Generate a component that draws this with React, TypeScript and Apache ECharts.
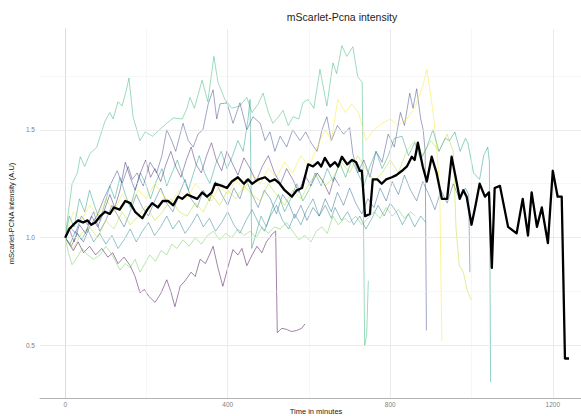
import React, { useEffect, useRef } from "react";
import * as echarts from "echarts";

const chartTitle = "mScarlet-Pcna intensity";
const xTitle = "Time in minutes";
const yTitle = "mScarlet-PCNA intensity (A.U)";
const xTickLabels = [0, 400, 800, 1200];
const yTickLabels = [0.5, 1.0, 1.5];
const xGridMajor = [0, 400, 800, 1200];
const xGridMinor = [200, 600, 1000];
const yGridMajor = [0.5, 1.0, 1.5];
const yGridMinor = [0.75, 1.25, 1.75];

const cellColors = ["#35b779", "#3e4989", "#440154", "#6ece58", "#31688e", "#fde725", "#b5de2b", "#1f9e89", "#482878", "#26828e"];

const cell1 = [[0,1.00],[8,1.12],[17,1.25],[30,1.30],[37,1.375],[48,1.33],[61,1.39],[78,1.42],[86,1.47],[98,1.54],[110,1.58],[118,1.55],[130,1.63],[140,1.61],[150,1.68],[157,1.74],[167,1.56],[184,1.45],[197,1.49],[215,1.47],[238,1.51],[250,1.53],[266,1.555],[288,1.55],[300,1.60],[307,1.65],[318,1.60],[337,1.73],[351,1.63],[366,1.84],[376,1.72],[393,1.64],[410,1.60],[430,1.61],[447,1.65],[460,1.58],[475,1.62],[487,1.67],[500,1.58],[511,1.53],[525,1.56],[536,1.59],[549,1.52],[561,1.56],[575,1.55],[585,1.625],[598,1.64],[612,1.60],[627,1.78],[644,1.61],[659,1.81],[668,1.76],[681,1.89],[693,1.84],[708,1.885],[720,1.745],[731,1.72],[737,0.50],[742,0.55],[746,0.80]];
const cell2 = [[0,1.00],[15,0.96],[30,1.02],[45,0.98],[60,1.05],[78,1.10],[95,1.18],[110,1.24],[128,1.31],[140,1.25],[155,1.33],[165,1.27],[177,1.30],[192,1.24],[209,1.35],[225,1.30],[238,1.38],[250,1.50],[262,1.45],[272,1.40],[290,1.53],[303,1.45],[315,1.42],[327,1.48],[339,1.50],[352,1.62],[364,1.685],[373,1.55],[381,1.62],[398,1.625],[413,1.53],[430,1.625],[447,1.50],[462,1.56],[480,1.53],[492,1.45],[504,1.49],[516,1.40],[529,1.47],[545,1.42],[560,1.50],[578,1.45],[592,1.49],[605,1.44],[620,1.40],[632,1.50],[644,1.56],[655,1.45],[670,1.52],[685,1.48],[700,1.51],[708,1.39],[720,1.30],[735,1.36],[750,1.28],[765,1.40],[780,1.35],[795,1.48],[810,1.42],[825,1.58],[835,1.52],[848,1.67],[856,1.60],[865,1.69],[875,1.55],[881,1.50],[886,1.40],[889,0.57]];
const cell3 = [[0,1.00],[10,0.97],[20,0.94],[32,0.98],[45,0.93],[60,0.96],[75,0.92],[90,0.95],[105,0.91],[117,0.93],[130,0.88],[145,0.91],[160,0.87],[172,0.82],[184,0.745],[195,0.76],[205,0.73],[221,0.70],[235,0.74],[250,0.805],[260,0.75],[270,0.68],[283,0.775],[295,0.80],[310,0.84],[320,0.82],[332,0.90],[345,0.88],[355,0.92],[364,0.96],[376,0.86],[388,0.775],[400,0.86],[413,0.945],[425,0.92],[435,0.95],[447,0.87],[460,0.92],[472,0.96],[484,0.93],[495,0.98],[511,1.02],[518,1.03],[522,0.56],[533,0.58],[545,0.575],[557,0.565],[570,0.57],[582,0.58],[590,0.60]];
const cell4 = [[0,1.00],[8,0.93],[17,0.875],[30,0.91],[42,0.95],[55,0.92],[70,0.90],[86,0.92],[100,0.96],[112,0.93],[124,0.89],[135,0.85],[148,0.88],[160,0.86],[172,0.90],[184,0.84],[196,0.88],[208,0.92],[222,0.89],[236,0.94],[250,0.92],[262,0.97],[275,0.95],[290,0.99],[305,0.96],[320,1.00],[335,0.97],[350,1.01],[365,1.03],[380,0.99],[395,1.02],[410,1.00],[425,1.04],[440,1.01],[455,1.03],[470,1.00],[485,1.05],[500,1.02],[515,1.05],[529,1.04],[545,1.07],[560,1.03],[575,0.99],[590,1.01],[605,0.98],[618,1.03],[632,1.05],[645,1.02],[659,1.10],[672,1.06],[688,1.09],[700,1.07],[715,1.10],[730,1.06],[745,1.09],[760,1.12],[775,1.09],[790,1.14],[805,1.10],[820,1.13],[835,1.09],[850,1.12],[862,1.10]];
const cell5 = [[0,1.00],[12,1.05],[25,1.02],[40,1.10],[55,1.06],[70,1.12],[85,1.03],[100,1.08],[115,1.15],[130,1.10],[145,1.05],[160,1.12],[175,1.20],[190,1.14],[205,1.10],[220,1.17],[235,1.23],[250,1.16],[265,1.12],[280,1.20],[295,1.27],[310,1.18],[325,1.14],[340,1.22],[355,1.17],[370,1.26],[385,1.20],[400,1.15],[415,1.23],[430,1.18],[445,1.27],[460,1.20],[475,1.14],[490,1.22],[505,1.18],[520,1.11],[535,1.20],[550,1.16],[565,1.09],[580,1.15],[595,1.08],[610,1.14],[625,1.10],[640,1.18],[655,1.12],[670,1.21],[685,1.15],[700,1.23],[715,1.16],[730,1.11],[745,1.18],[760,1.14],[775,1.23],[790,1.17],[805,1.26],[820,1.20],[835,1.29],[850,1.22],[865,1.17],[880,1.26],[895,1.20],[910,1.13],[925,1.22],[940,1.16],[955,1.25],[970,1.18],[985,1.23],[993,1.20],[996,0.84]];
const cell6 = [[0,1.00],[20,1.12],[40,1.08],[60,1.15],[80,1.10],[100,1.18],[120,1.12],[140,1.20],[160,1.15],[180,1.22],[200,1.18],[220,1.25],[240,1.20],[260,1.16],[280,1.22],[300,1.18],[320,1.25],[340,1.21],[360,1.17],[380,1.24],[400,1.20],[420,1.27],[440,1.22],[460,1.30],[480,1.25],[500,1.32],[520,1.28],[540,1.35],[560,1.30],[580,1.38],[600,1.33],[620,1.42],[640,1.50],[655,1.45],[671,1.64],[690,1.58],[705,1.62],[722,1.58],[740,1.45],[760,1.50],[780,1.53],[800,1.55],[820,1.52],[840,1.55],[860,1.60],[880,1.70],[890,1.78],[905,1.59],[915,1.40],[922,1.20],[927,0.52]];
const cell7 = [[0,1.00],[20,0.95],[40,1.02],[60,1.05],[80,1.00],[100,1.08],[120,1.04],[140,1.12],[160,1.06],[180,1.10],[200,1.15],[220,1.08],[240,1.12],[260,1.18],[280,1.12],[300,1.10],[320,1.16],[340,1.12],[360,1.20],[380,1.15],[400,1.22],[420,1.18],[440,1.24],[460,1.20],[480,1.17],[500,1.25],[520,1.20],[540,1.15],[560,1.22],[580,1.18],[600,1.25],[620,1.30],[640,1.24],[660,1.28],[680,1.35],[700,1.30],[720,1.38],[740,1.32],[760,1.26],[780,1.30],[800,1.36],[820,1.30],[840,1.40],[860,1.45],[880,1.38],[900,1.45],[920,1.40],[940,1.48],[955,1.40],[962,1.04],[970,0.87],[980,0.84],[990,0.75],[1000,0.71]];
const cell8 = [[0,1.00],[10,1.10],[22,1.05],[35,1.18],[48,1.12],[60,1.22],[72,1.15],[85,1.08],[98,1.16],[110,1.24],[122,1.18],[135,1.28],[148,1.20],[160,1.14],[172,1.22],[185,1.30],[198,1.25],[210,1.18],[224,1.26],[238,1.32],[250,1.24],[263,1.30],[276,1.36],[290,1.28],[303,1.22],[316,1.30],[330,1.38],[343,1.30],[356,1.25],[370,1.34],[384,1.40],[398,1.32],[412,1.38],[425,1.45],[438,1.40],[450,1.55],[455,1.64],[459,0.95],[470,1.02],[482,1.10],[495,1.05],[510,1.14],[525,1.20],[540,1.12],[555,1.18],[570,1.25],[585,1.17],[600,1.22],[615,1.30],[630,1.24],[645,1.32],[660,1.26],[675,1.35],[690,1.28],[705,1.36],[720,1.30],[735,1.24],[750,1.33],[765,1.40],[780,1.32],[795,1.38],[810,1.46],[829,1.47],[845,1.38],[860,1.44],[875,1.36],[890,1.42],[905,1.50],[920,1.40],[935,1.46],[946,1.45],[959,1.49],[972,1.40],[985,1.46],[991,1.44],[1005,1.30],[1020,1.27],[1030,1.38],[1040,1.42],[1044,1.35],[1047,0.33]];
const cell9 = [[0,1.00],[10,1.04],[22,0.98],[35,1.06],[50,1.02],[65,1.10],[80,1.05],[95,1.12],[110,1.20],[122,1.14],[135,1.22],[148,1.35],[160,1.28],[172,1.22],[185,1.30],[198,1.36],[210,1.28],[221,1.32],[235,1.26],[248,1.34],[260,1.40],[272,1.33],[285,1.28],[298,1.36],[310,1.42],[322,1.34],[335,1.30],[348,1.38],[360,1.44],[372,1.36],[385,1.31],[398,1.40],[410,1.35],[425,1.29],[440,1.37],[455,1.32],[470,1.26],[485,1.33],[500,1.38],[515,1.30],[530,1.25],[545,1.32],[560,1.27],[575,1.21],[590,1.29],[605,1.24],[620,1.30],[635,1.26],[650,1.20],[662,1.28],[675,1.24]];
const cell10 = [[0,1.00],[12,0.97],[25,1.03],[40,0.99],[55,1.04],[70,0.98],[85,1.02],[100,0.97],[115,1.01],[130,0.95],[145,0.99],[160,1.04],[175,0.98],[190,1.03],[205,1.07],[220,1.01],[235,1.05],[250,1.10],[265,1.04],[280,1.08],[295,1.02],[310,1.06],[325,1.11],[340,1.05],[355,1.09],[370,1.03],[385,1.07],[400,1.12],[415,1.06],[430,1.02],[445,1.08],[460,1.13],[475,1.07],[490,1.03],[505,1.10],[520,1.15],[535,1.08],[550,1.04],[565,1.11],[580,1.06],[595,1.13],[610,1.18],[625,1.10],[640,1.15],[655,1.09],[664,1.14],[680,1.08],[695,1.12],[710,1.06],[725,1.10],[740,1.04],[755,1.09],[770,1.15],[785,1.10],[800,1.16],[815,1.12],[830,1.06],[845,1.11],[860,1.05],[875,1.10],[888,1.07]];

const meanIntensity = [[0,1.00],[10,1.04],[20,1.06],[32,1.08],[44,1.07],[55,1.08],[64,1.06],[74,1.07],[86,1.10],[98,1.12],[110,1.11],[120,1.14],[134,1.13],[148,1.17],[160,1.16],[172,1.12],[190,1.09],[202,1.13],[214,1.16],[228,1.14],[240,1.17],[253,1.17],[266,1.15],[278,1.19],[288,1.18],[300,1.20],[312,1.19],[325,1.18],[337,1.21],[349,1.19],[361,1.21],[369,1.25],[386,1.24],[398,1.23],[410,1.26],[425,1.28],[440,1.25],[450,1.27],[460,1.25],[476,1.27],[492,1.28],[504,1.26],[516,1.27],[528,1.25],[540,1.22],[558,1.19],[570,1.22],[583,1.23],[598,1.34],[610,1.33],[622,1.35],[630,1.33],[639,1.37],[652,1.33],[664,1.35],[672,1.33],[681,1.375],[694,1.34],[706,1.36],[716,1.35],[725,1.31],[730,1.31],[738,1.10],[750,1.11],[757,1.27],[768,1.27],[779,1.25],[790,1.27],[804,1.28],[815,1.29],[829,1.31],[841,1.33],[853,1.375],[860,1.36],[868,1.44],[880,1.33],[890,1.26],[902,1.375],[914,1.30],[927,1.18],[940,1.18],[951,1.375],[961,1.28],[971,1.18],[980,1.22],[988,1.19],[1000,1.06],[1010,1.15],[1020,1.25],[1033,1.19],[1043,1.21],[1050,0.86],[1057,1.23],[1070,1.24],[1090,1.05],[1111,1.02],[1126,1.18],[1139,1.01],[1148,1.21],[1161,1.05],[1173,1.14],[1188,0.975],[1200,1.31],[1212,1.19],[1222,1.19],[1230,0.44],[1240,0.44]];

const cells = [cell1, cell2, cell3, cell4, cell5, cell6, cell7, cell8, cell9, cell10];

const FONT = "Liberation Sans, Arial, sans-serif";

export default function App() {
  const ref = useRef<HTMLDivElement>(null);
  useEffect(() => {
    document.body.style.margin = "0";
    if (!ref.current) return;
    const chart = echarts.init(ref.current, undefined, { renderer: "svg" });
    const gridLines = [
      ...xGridMinor.map((v) => ({ xAxis: v, lineStyle: { width: 0.5, color: "#efefef" } })),
      ...yGridMinor.map((v) => ({ yAxis: v, lineStyle: { width: 0.5, color: "#efefef" } })),
      ...xGridMajor.map((v) => ({ xAxis: v, lineStyle: { width: 0.8, color: "#e6e6e6" } })),
      ...yGridMajor.map((v) => ({ yAxis: v, lineStyle: { width: 0.8, color: "#e6e6e6" } })),
    ];
    const series: any[] = [
      {
        type: "line",
        data: [],
        z: 1,
        silent: true,
        markLine: {
          silent: true,
          symbol: ["none", "none"],
          label: { show: false },
          lineStyle: { type: "solid" },
          data: gridLines,
        },
      },
      ...cells.map((d, i) => ({
        type: "line",
        data: d,
        z: 2,
        showSymbol: false,
        symbol: "none",
        lineStyle: { color: cellColors[i], width: 0.9, opacity: 0.55 },
      })),
      {
        type: "line",
        data: meanIntensity,
        z: 5,
        showSymbol: false,
        symbol: "none",
        lineStyle: { color: "#000", width: 2.3, join: "round" },
      },
    ];
    chart.setOption({
      animation: false,
      textStyle: { fontFamily: FONT },
      title: [
        {
          text: chartTitle,
          left: 342,
          top: 11,
          textAlign: "center",
          padding: 0,
          textStyle: { fontSize: 10.5, fontWeight: "normal", color: "#222", fontFamily: FONT },
        },
        {
          text: xTitle,
          left: 316,
          top: 407,
          textAlign: "center",
          padding: 0,
          textStyle: { fontSize: 7.5, fontWeight: "normal", color: "#222", fontFamily: FONT },
        },
      ],
      grid: { left: 40, right: -12, top: 29, bottom: 18, containLabel: false, outerBoundsMode: "none" },
      xAxis: {
        type: "value",
        min: -62,
        max: 1299,
        axisLine: { show: true, lineStyle: { color: "#b3b3b3", width: 1 } },
        axisTick: { show: false },
        splitLine: { show: false },
        axisLabel: {
          customValues: xTickLabels,
          formatter: (v: number) => String(v),
          fontSize: 6.5,
          color: "#808080",
          margin: 3,
          fontFamily: FONT,
        },
      },
      yAxis: {
        type: "value",
        min: 0.257,
        max: 1.967,
        name: yTitle,
        nameLocation: "middle",
        nameGap: 14,
        nameTextStyle: { fontSize: 7.5, color: "#222", fontFamily: FONT },
        axisLine: { show: true, lineStyle: { color: "#b3b3b3", width: 1 } },
        axisTick: { show: false },
        splitLine: { show: false },
        axisLabel: {
          customValues: yTickLabels,
          formatter: (v: number) => v.toFixed(1),
          fontSize: 6.5,
          color: "#808080",
          margin: 5,
          fontFamily: FONT,
        },
      },
      series,
    });
    return () => chart.dispose();
  }, []);
  return <div ref={ref} style={{ width: 581, height: 416 }} />;
}
